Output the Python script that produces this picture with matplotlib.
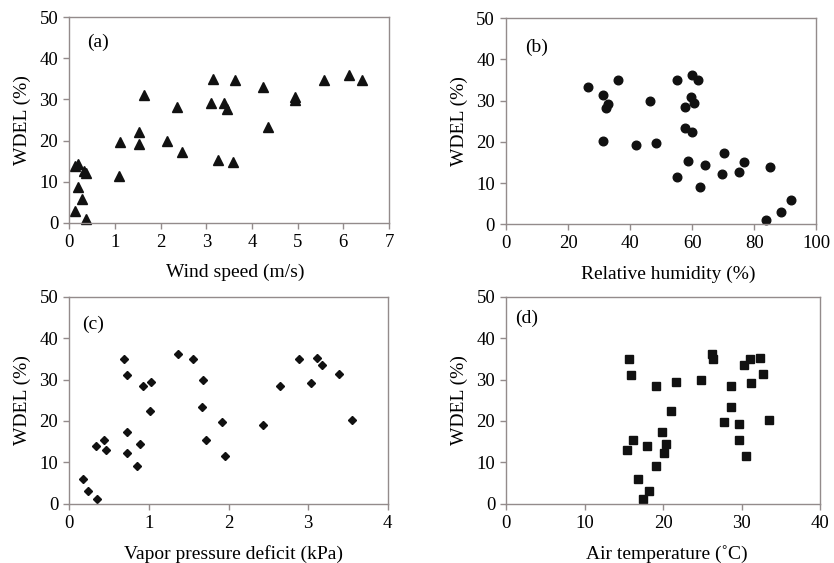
from __future__ import annotations

import matplotlib

matplotlib.use("Agg")
import matplotlib.pyplot as plt

# (a) wind speed vs WDEL
wind_speed = [0.12, 0.18, 0.19, 0.32, 0.36, 0.28, 0.12, 0.36, 1.09, 1.12,
              1.53, 1.52, 1.64, 2.15, 2.36, 2.46, 3.14, 3.11, 3.26, 3.39,
              3.45, 3.58, 3.63, 4.24, 4.34, 4.95, 4.95, 5.58, 6.13, 6.42]
wdel_wind = [13.9, 14.3, 8.8, 12.7, 12.0, 5.7, 2.9, 0.8, 11.4, 19.7,
             22.0, 19.2, 31.2, 20.0, 28.2, 17.2, 35.1, 29.1, 15.3, 29.2,
             27.8, 14.9, 34.7, 33.0, 23.2, 30.7, 29.8, 34.7, 35.9, 34.7]

# (b) relative humidity vs WDEL
rel_humidity = [26.3, 31.1, 32.8, 32.2, 31.1, 36.2, 41.8, 46.3, 48.2, 55.0,
                55.2, 57.7, 57.7, 58.8, 60.0, 62.0, 59.7, 60.7, 59.8, 62.6,
                64.2, 70.1, 69.6, 75.2, 76.8, 85.2, 83.8, 88.6, 91.9]
wdel_rh = [33.3, 31.3, 29.2, 28.3, 20.2, 35.0, 19.2, 29.9, 19.8, 35.0,
           11.6, 28.4, 23.4, 15.3, 36.2, 35.0, 31.0, 29.4, 22.3, 9.0,
           14.3, 17.4, 12.2, 12.8, 15.1, 13.8, 1.1, 3.0, 5.9]

# (c) vapor pressure deficit vs WDEL
vpd = [0.17, 0.24, 0.35, 0.33, 0.43, 0.46, 0.69, 0.73, 0.72, 0.72,
       0.89, 0.85, 0.93, 1.03, 1.01, 1.36, 1.55, 1.68, 1.67, 1.72,
       1.92, 1.96, 2.43, 2.65, 2.88, 3.04, 3.11, 3.18, 3.39, 3.55]
wdel_vpd = [5.9, 3.0, 1.2, 13.9, 15.3, 12.9, 34.9, 31.0, 17.3, 12.2,
            14.5, 9.0, 28.4, 29.4, 22.4, 36.1, 34.9, 30.0, 23.4, 15.4,
            19.7, 11.6, 19.1, 28.4, 34.9, 29.1, 35.2, 33.4, 31.4, 20.3]

# (d) air temperature vs WDEL
air_temp = [15.7, 15.9, 16.1, 15.4, 17.9, 19.1, 19.1, 16.8, 18.2, 17.4,
            19.8, 20.4, 20.1, 21.0, 21.6, 24.8, 26.2, 26.4, 27.7, 28.6,
            28.7, 29.7, 29.7, 30.6, 30.3, 31.1, 31.2, 32.4, 32.7, 33.5]
wdel_temp = [34.9, 31.0, 15.3, 12.9, 13.9, 28.4, 9.0, 5.9, 3.1, 1.2,
             17.3, 14.5, 12.2, 22.4, 29.4, 30.0, 36.1, 34.9, 19.8, 23.4,
             28.4, 19.3, 15.4, 11.6, 33.4, 34.9, 29.1, 35.1, 31.4, 20.3]

FRAME = "#938b8b"
FONT = ["Liberation Serif", "DejaVu Serif"]


def style_axes(ax, xlim, xticks, xlabel, letter, letter_pos, label_x=0.515):
    ax.set_xlim(*xlim)
    ax.set_ylim(0, 50)
    ax.set_xticks(xticks)
    ax.set_yticks(range(0, 51, 10))
    for spine in ax.spines.values():
        spine.set_color(FRAME)
        spine.set_linewidth(1.0)
    ax.tick_params(direction="out", length=4, width=1.0, color=FRAME,
                   labelsize=13.5, pad=4)
    ax.set_xlabel(xlabel, fontsize=14, labelpad=7)
    ax.xaxis.set_label_coords(label_x, -0.2)
    ax.set_ylabel("WDEL (%)", fontsize=14, labelpad=6)
    ax.text(letter_pos[0], letter_pos[1], letter, transform=ax.transAxes,
            fontsize=14, ha="left", va="center")


def main() -> None:
    plt.rcParams["font.family"] = FONT
    fig = plt.figure(figsize=(8.34, 5.63), dpi=100)

    ax_a = fig.add_axes([0.0831, 0.6044, 0.3833, 0.3648])
    ax_b = fig.add_axes([0.6067, 0.6016, 0.3721, 0.3659])
    ax_c = fig.add_axes([0.0831, 0.1053, 0.3818, 0.3677])
    ax_d = fig.add_axes([0.6071, 0.1053, 0.3761, 0.3677])

    ax_a.plot(wind_speed, wdel_wind, linestyle="none", marker="^",
              markersize=7.5, color="#111111", clip_on=False)
    ax_b.plot(rel_humidity, wdel_rh, linestyle="none", marker="o",
              markersize=6.2, color="#111111", clip_on=False)
    ax_c.plot(vpd, wdel_vpd, linestyle="none", marker="D",
              markersize=3.8, color="#111111", clip_on=False)
    ax_d.plot(air_temp, wdel_temp, linestyle="none", marker="s",
              markersize=6.0, color="#111111", clip_on=False)

    style_axes(ax_a, (0, 7), range(0, 8), "Wind speed (m/s)", "(a)",
               (0.055, 0.877), label_x=0.52)
    style_axes(ax_b, (0, 100), range(0, 101, 20), "Relative humidity (%)", "(b)",
               (0.061, 0.86), label_x=0.522)
    style_axes(ax_c, (0, 4), range(0, 5), "Vapor pressure deficit (kPa)", "(c)",
               (0.039, 0.868), label_x=0.517)
    style_axes(ax_d, (0, 40), range(0, 41, 10), "Air temperature (\u02daC)", "(d)",
               (0.028, 0.897), label_x=0.512)

    fig.savefig("out.png", dpi=100)
    plt.close(fig)


if __name__ == "__main__":
    main()
